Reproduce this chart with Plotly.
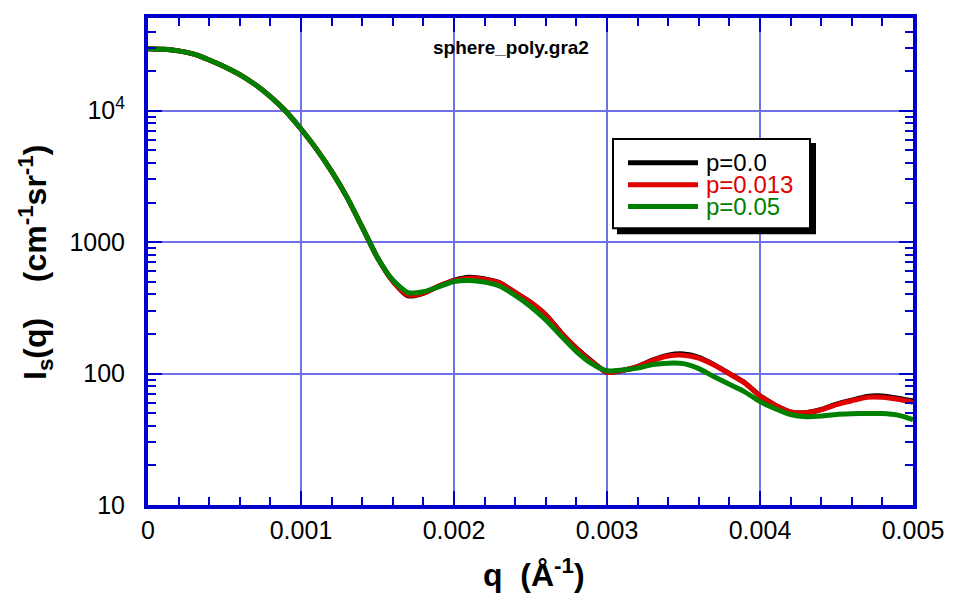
import plotly.graph_objects as go

# ---- data ----
q_values = [0.0, 0.0001, 0.0002, 0.0003, 0.0004, 0.0005, 0.0006, 0.0007, 0.0008, 0.0009,
            0.0010, 0.0011, 0.0012, 0.0013, 0.0014, 0.0015, 0.0016, 0.0017, 0.0018, 0.0019,
            0.0020, 0.0021, 0.0022, 0.0023, 0.0024, 0.0025, 0.0026, 0.0027, 0.0028, 0.0029,
            0.0030, 0.0031, 0.0032, 0.0033, 0.0034, 0.0035, 0.0036, 0.0037, 0.0038, 0.0039,
            0.0040, 0.0041, 0.0042, 0.0043, 0.0044, 0.0045, 0.0046, 0.0047, 0.0048, 0.0049,
            0.0050]

I_p0 = [29600, 29300, 28500, 26900, 24300, 21600, 18800, 15800, 12800, 9900,
        7250, 5120, 3450, 2200, 1300, 760, 505, 390, 408, 462,
        512, 540, 525, 490, 414, 349, 280, 205, 156, 124,
        102, 105.5, 113, 127, 138, 141, 133, 117, 100, 85.2,
        67.8, 57.5, 51.0, 50.4, 53.3, 58.6, 62.8, 67.0, 67.5, 65.0,
        62.0]

I_p013 = [29600, 29300, 28500, 26900, 24300, 21600, 18800, 15800, 12800, 9900,
          7250, 5120, 3450, 2200, 1300, 760, 505, 395, 410, 462,
          509, 532, 519, 488, 413, 348, 279, 204, 155, 123,
          102, 105.5, 113, 126, 136, 138, 131, 116, 99.6, 84.9,
          67.5, 57.4, 51.1, 50.4, 53.1, 58.1, 62.1, 65.9, 65.9, 63.7,
          60.5]

I_p05 = [29600, 29300, 28500, 26900, 24300, 21600, 18800, 15800, 12800, 9900,
         7250, 5120, 3450, 2200, 1300, 760, 515, 413, 419, 457,
         502, 511, 496, 462, 393, 324, 256, 193, 147, 119,
         105, 106.4, 110, 117, 120, 119, 109, 94.6, 82.8, 72.6,
         61.2, 54.0, 48.8, 47.0, 47.5, 48.9, 49.4, 49.7, 49.6, 48.3,
         44.7]

series_names = ["p=0.0", "p=0.013", "p=0.05"]
series_values = [I_p0, I_p013, I_p05]
series_colors = ["#000000", "#e00000", "#008000"]

y_tick_vals = [10, 100, 1000, 10000]
y_tick_text = ["10", "100", "1000", "10<sup>4</sup>"]
y_minor_vals = [20, 30, 40, 50, 60, 70, 80, 90,
                200, 300, 400, 500, 600, 700, 800, 900,
                2000, 3000, 4000, 5000, 6000, 7000, 8000, 9000,
                20000, 30000, 40000, 50000]

chart_title = "sphere_poly.gra2"

# ---- layout constants (page has an 8px body margin) ----
OFF = 8
W, H = 954 - OFF, 594 - OFF
L, R, T, B = 140, 41, 6, 89
PW, PH = W - L - R, H - T - B
FONT = "Liberation Sans, Arial, Helvetica, sans-serif"
BLUE = "#0000cc"
GRID = "rgb(112,112,235)"


def px_x(px):  # page pixel -> paper x
    return (px - OFF - L) / PW


def px_y(py):  # page pixel -> paper y
    return (H - B - (py - OFF)) / PH


fig = go.Figure()
for name, vals, col in zip(series_names, series_values, series_colors):
    fig.add_trace(go.Scatter(
        x=q_values, y=vals, mode="lines", name=name,
        line=dict(color=col, width=5, shape="spline", smoothing=0.6),
        showlegend=False,
    ))

axis_common = dict(
    showline=True, linecolor=BLUE, linewidth=4, mirror="ticks",
    ticks="inside", tickcolor=BLUE, tickwidth=2, ticklen=14,
    showgrid=True, gridcolor=GRID, gridwidth=2, zeroline=False,
    tickfont=dict(family=FONT, size=25, color="#000000"),
)

fig.update_layout(
    xaxis=dict(
        range=[0, 0.005], tickmode="linear", tick0=0, dtick=0.001,
        minor=dict(dtick=0.0002, tick0=0, ticks="inside", ticklen=8,
                   tickcolor=BLUE, tickwidth=2, showgrid=False),
        **axis_common,
    ),
    yaxis=dict(
        type="log", range=[1, 4.705], tickmode="array",
        tickvals=y_tick_vals, ticktext=y_tick_text,
        ticklabelstandoff=14,
        **axis_common,
    ),
    # overlay axis carrying the minor log ticks
    yaxis2=dict(
        type="log", range=[1, 4.705], overlaying="y", side="left",
        tickmode="array", tickvals=y_minor_vals, showticklabels=False,
        ticks="inside", ticklen=8, tickcolor=BLUE, tickwidth=2,
        showline=True, linecolor=BLUE, linewidth=4, mirror="ticks",
        showgrid=False, zeroline=False,
    ),
)
# invisible trace to activate yaxis2
fig.add_trace(go.Scatter(x=[q_values[0]], y=[I_p0[0]], yaxis="y2", mode="markers",
                         marker=dict(opacity=0), showlegend=False, hoverinfo="skip"))

shapes = []
annotations = []

# legend (framed box with drop shadow)
bx0, by0, bx1, by1 = 613, 136, 810, 226
sh = 5
shapes.append(dict(type="rect", xref="paper", yref="paper",
                   x0=px_x(bx0 + sh), x1=px_x(bx1 + sh), y0=px_y(by1 + sh), y1=px_y(by0 + sh),
                   line=dict(color="#000000", width=2), fillcolor="#000000", layer="above"))
shapes.append(dict(type="rect", xref="paper", yref="paper",
                   x0=px_x(bx0), x1=px_x(bx1), y0=px_y(by1), y1=px_y(by0),
                   line=dict(color="#000000", width=2), fillcolor="#ffffff", layer="above"))
row_y = [160, 182, 204]
for name, col, ry in zip(series_names, series_colors, row_y):
    shapes.append(dict(type="line", xref="paper", yref="paper",
                       x0=px_x(628), x1=px_x(698), y0=px_y(ry), y1=px_y(ry),
                       line=dict(color=col, width=5), layer="above"))
    annotations.append(dict(xref="paper", yref="paper", x=px_x(704), y=px_y(ry),
                            xanchor="left", yanchor="middle", showarrow=False,
                            text=name, font=dict(family=FONT, size=24, color=col)))

# chart title inside plot
annotations.append(dict(xref="paper", yref="paper", x=px_x(511), y=px_y(44),
                        xanchor="center", yanchor="middle", showarrow=False,
                        text="<b>" + chart_title + "</b>",
                        font=dict(family=FONT, size=19, color="#000000")))

# axis titles
annotations.append(dict(xref="paper", yref="paper", x=px_x(534), y=px_y(574),
                        xanchor="center", yanchor="middle", showarrow=False,
                        text="<b>q  (Å<sup>-1</sup>)</b>",
                        font=dict(family=FONT, size=32, color="#000000")))
annotations.append(dict(xref="paper", yref="paper", x=px_x(36), y=px_y(261),
                        xanchor="center", yanchor="middle", showarrow=False, textangle=-90,
                        text="<b>I<sub>s</sub>(q)    (cm<sup>-1</sup>sr<sup>-1</sup>)</b>",
                        font=dict(family=FONT, size=32, color="#000000")))

fig.update_layout(
    width=W, height=H,
    margin=dict(l=L, r=R, t=T, b=B),
    paper_bgcolor="#ffffff", plot_bgcolor="#ffffff",
    shapes=shapes, annotations=annotations,
    font=dict(family=FONT),
)

fig.write_html("out.html")
